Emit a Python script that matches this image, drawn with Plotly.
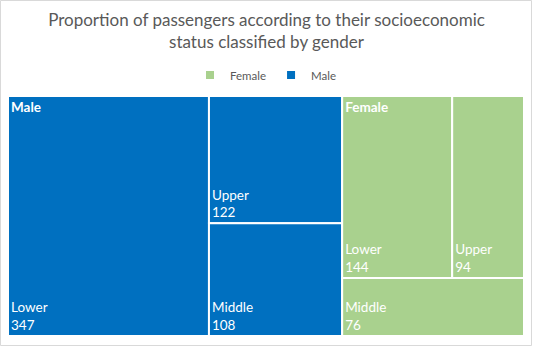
import plotly.graph_objects as go

# ---- data ----
genders = ["Male", "Female"]
classes = ["Lower", "Upper", "Middle"]
male_counts = [347, 122, 108]
female_counts = [144, 94, 76]
gender_colors = {"Male": "#0070C0", "Female": "#A9D18E"}
title_text = "Proportion of passengers according to their socioeconomic<br>status classified by gender"

W, H = 533, 346
ml, mr, mt, mb = 8, 9, 96, 10

counts = {"Male": male_counts, "Female": female_counts}

ids, labels, parents, values, colors, templates = [], [], [], [], [], []
for g in genders:
    ids.append(g); labels.append(g); parents.append(""); values.append(sum(counts[g]))
    colors.append(gender_colors[g]); templates.append("")
for g in genders:
    for c, v in zip(classes, counts[g]):
        ids.append(f"{g}-{c}"); labels.append(c); parents.append(g); values.append(v)
        colors.append(gender_colors[g]); templates.append("%{label}<br>%{value}")

font = "Lato, 'Open Sans', sans-serif"

fig = go.Figure()
fig.add_trace(go.Treemap(
    ids=ids, labels=labels, parents=parents, values=values,
    branchvalues="total", sort=True,
    texttemplate=templates, textposition="bottom left",
    textfont=dict(family=font, size=13.5, color="white"),
    marker=dict(colors=colors, line=dict(color="white", width=2),
                pad=dict(t=0, l=0, r=0, b=0), depthfade=False),
    tiling=dict(packing="squarify", squarifyratio=1.618, pad=0),
    pathbar=dict(visible=False), root=dict(color="white"),
    hoverinfo="label+value", domain=dict(x=[0, 1], y=[0, 1]),
))
# overlay for the group (parent) labels in the top-left corner
fig.add_trace(go.Treemap(
    labels=genders, parents=["", ""], values=[sum(counts[g]) for g in genders],
    sort=True, texttemplate="<b>%{label}</b>", textposition="top left",
    textfont=dict(family=font, size=13.5, color="white"),
    marker=dict(colors=["rgba(0,0,0,0)"] * 2, line=dict(width=0),
                pad=dict(t=0, l=0, r=0, b=0), depthfade=False),
    tiling=dict(packing="squarify", squarifyratio=1.618, pad=0),
    pathbar=dict(visible=False), root=dict(color="rgba(0,0,0,0)"),
    hoverinfo="skip", domain=dict(x=[0, 1], y=[0, 1]),
))
# legend entries
for g in ["Female", "Male"]:
    fig.add_trace(go.Scatter(x=[None], y=[None], mode="markers", name=g,
                             marker=dict(symbol="square", size=8, color=gender_colors[g])))

pw = W - ml - mr
ph = H - mt - mb
fig.update_layout(
    width=W, height=H,
    margin=dict(l=ml, r=mr, t=mt, b=mb),
    paper_bgcolor="white", plot_bgcolor="white",
    font=dict(family=font, color="#595959"),
    title=dict(text=title_text, x=0.5, xanchor="center", y=1 - 26 / H, yanchor="middle",
               font=dict(family=font, size=17, color="#595959")),
    legend=dict(orientation="h", x=0.5, xanchor="center", y=1 + 21 / ph, yanchor="middle",
                font=dict(family=font, size=11.5, color="#595959"), itemwidth=30,
                bgcolor="rgba(0,0,0,0)"),
    xaxis=dict(visible=False), yaxis=dict(visible=False),
    shapes=[dict(type="rect", xref="paper", yref="paper",
                 x0=-(ml - 0.5) / pw, x1=1 + (mr - 1.5) / pw,
                 y0=-(mb - 0.5) / ph, y1=1 + (mt - 0.5) / ph,
                 line=dict(color="#D9D9D9", width=1), layer="below")],
)
fig.write_html("out.html")
